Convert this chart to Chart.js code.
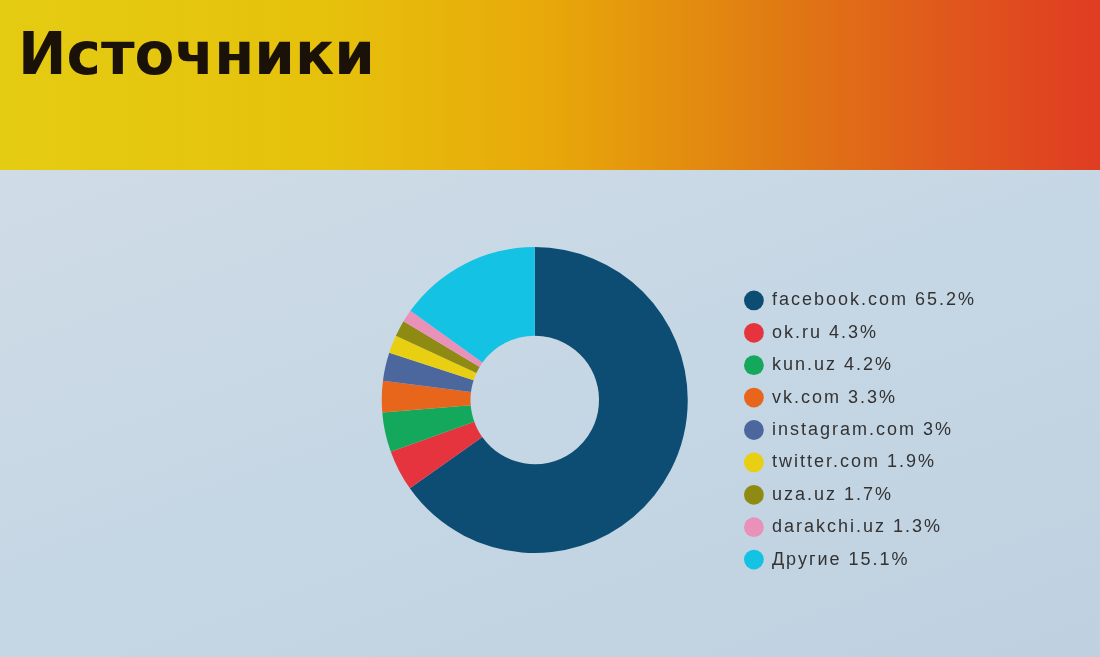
<!DOCTYPE html>
<html lang="ru">
<head>
<meta charset="utf-8">
<title>Источники</title>
<script src="https://cdn.jsdelivr.net/npm/chart.js@4"></script>
<style>
  html, body { margin: 0; padding: 0; }
  body {
    width: 1100px; height: 657px; overflow: hidden;
    background: linear-gradient(160deg, #d3dee8 0%, #c5d6e4 60%, #bfd1e0 100%);
    position: relative;
  }
  .header {
    position: absolute; left: 0; top: 0; width: 1100px; height: 170px;
    background: linear-gradient(90deg, #e4cc12 0%, #e6c10c 30%, #e8a80a 50%, #e07c12 70%, #e05a1c 85%, #e03c22 100%);
  }
  .header h1 {
    margin: 0; position: absolute; left: 18px; top: 20px;
    font-family: "DejaVu Sans", sans-serif; font-weight: bold;
    font-size: 58px; color: #1a1208;
  }
  .chart-box { position: absolute; left: 0; top: 170px; width: 1100px; height: 487px; }
</style>
</head>
<body>
<div class="header"><h1>Источники</h1></div>
<div class="chart-box"><canvas id="myChart"></canvas></div>
<script>
// Данные
const sources = ["facebook.com", "ok.ru", "kun.uz", "vk.com", "instagram.com", "twitter.com", "uza.uz", "darakchi.uz", "Другие"];
const shares = [65.2, 4.3, 4.2, 3.3, 3, 1.9, 1.7, 1.3, 15.1];
const sliceColors = ["#0d4d73", "#e6343e", "#13a85c", "#e8661c", "#4b679e", "#e9cf12", "#8e8a12", "#e991b9", "#14c3e3"];

// раздвинуть буквы в легенде (canvas сбрасывает это при ресайзе)
const spacing = {
    id: 'spacing',
    beforeLayout(chart) { chart.ctx.letterSpacing = '2px'; },
    beforeDraw(chart) { chart.ctx.letterSpacing = '2px'; }
};

const config = {
    type: "doughnut",
    data: {
        labels: sources,
        datasets: [{
            data: shares,
            backgroundColor: sliceColors,
            borderWidth: 0,
            radius: 153
        }]
    },
    options: {
        responsive: true,
        maintainAspectRatio: false,
        animation: false,
        cutout: "42%",
        layout: { padding: { left: 339, right: 114, top: 47, bottom: 74 } },
        plugins: {
            tooltip: { enabled: false },
            legend: {
                position: "right",
                align: "end",
                labels: {
                    usePointStyle: true,
                    pointStyle: "circle",
                    boxWidth: 18,
                    boxHeight: 14,
                    padding: 14.4,
                    color: "#333333",
                    font: { family: "'Liberation Sans', Arial, sans-serif", size: 18 },
                    generateLabels(chart) {
                        return sources.map((s, i) => ({
                            text: s + " " + shares[i] + "%",
                            fillStyle: sliceColors[i],
                            strokeStyle: sliceColors[i],
                            lineWidth: 0,
                            pointStyle: "circle",
                            fontColor: "#333333",
                            hidden: false,
                            index: i
                        }));
                    }
                }
            }
        }
    },
    plugins: [spacing]
};

const ctx = document.getElementById('myChart').getContext('2d');
const myChart = new Chart(ctx, config);
</script>
</body>
</html>
